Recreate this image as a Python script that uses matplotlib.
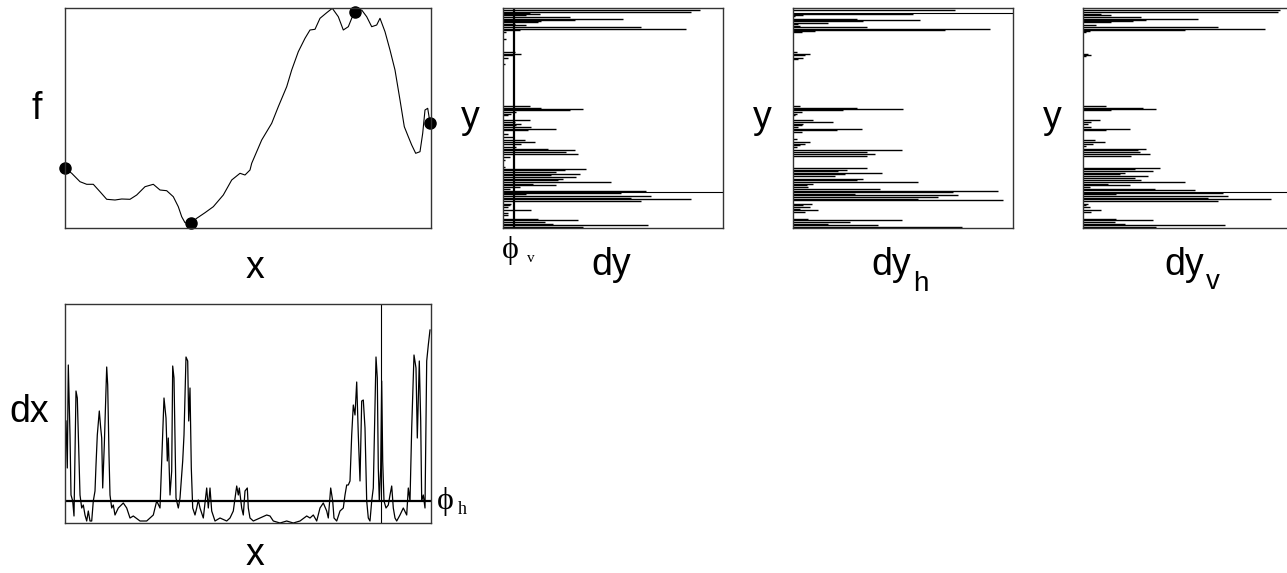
import matplotlib
matplotlib.use("Agg")
import matplotlib.pyplot as plt

# ---- f(x) profile (x in samples, f in arbitrary units) ----
f_x = [0, 6.7, 15, 21.7, 28.3, 35, 41.7, 50, 56.7, 65, 71.7, 80, 88.3, 95, 101.7, 108.3,
       113.3, 116.7, 120, 125.7, 131.7, 140, 148.3, 158.3, 166.7, 175, 180, 185, 186.7,
       196.7, 206.7, 213.3, 221.7, 226.7, 233.3, 240, 245, 250, 255, 261.7, 267.3, 273.3,
       278.3, 283.3, 286.7, 290, 296.7, 301.7, 306.7, 311.7, 315, 320, 325, 330, 335,
       339.3, 343.3, 346.7, 350.7, 355, 357.7, 360, 362.7, 365]
f_val = [59.7, 54.7, 46.3, 43.7, 43.7, 36.3, 28.7, 28, 29, 28.7, 33, 41.3, 43.7, 38, 37.3,
         31.3, 21.3, 11.3, 5.3, 4.7, 9.7, 15.3, 21.3, 33, 48, 54.7, 53, 58, 64.7, 88, 104.7,
         121.3, 141.3, 158, 176.3, 189.7, 198, 198.7, 209.7, 215.3, 219.7, 211.3, 198,
         201.3, 209.7, 216.3, 218, 211.3, 201.3, 203, 209.7, 196.3, 178, 158, 128, 101.3,
         91.3, 83, 74.7, 76.3, 94.7, 118, 119.7, 105.3]
ext_x = [0, 125.7, 290, 365]
ext_f = [59.7, 4.7, 216.3, 105.3]

# ---- dx profile ----
dx_x = [1, 2.3, 3.3, 5, 6, 7.7, 9, 11, 12.3, 13.3, 15, 16.7, 18.3, 20, 21.7, 23.3, 25,
        26.7, 28.3, 30, 31, 32.3, 34.3, 35.7, 36.7, 37.7, 39.3, 41.7, 42.7, 44, 45, 46.7,
        48.3, 50, 53.3, 58.3, 61.7, 65, 68.3, 75, 81.7, 88.3, 91.7, 95, 96.7, 99, 101,
        102.3, 103.3, 105, 106.7, 107.7, 109, 110, 111, 113.3, 115, 117.7, 119, 121, 122.7,
        123.7, 125, 126.3, 127.7, 130, 131.7, 133.3, 135, 138.3, 141.7, 143.3, 145, 146.7,
        150, 155, 161.7, 165, 168.3, 171.7, 173.3, 174.3, 176.7, 178.3, 180, 182.3, 183.3,
        185, 188.3, 195, 201.7, 205, 208.3, 215, 221.7, 228.3, 235, 241.7, 245, 248.3,
        251.7, 255, 258.3, 261.7, 263.3, 265.7, 267.7, 269, 271.7, 275, 278.3, 280, 281.7,
        283.3, 285, 286.7, 288.3, 290, 291.7, 293.3, 295, 296.7, 298.3, 300, 301.7, 303.3,
        305, 306.7, 308.3, 311, 312.3, 313.3, 314.3, 315.7, 316.7, 317.7, 319, 321, 323.3,
        325, 326.7, 328.3, 330, 331.7, 335, 338.3, 341.7, 343.3, 345, 346.7, 349, 351,
        352.3, 354.3, 355.7, 356.7, 358.3, 360, 361.7, 363.3, 365]
dx_val = [102, 55, 158, 88, 28, 22, 7, 132, 125, 88, 28, 15, 18, 8, 2, 12, 2, 2, 22, 32,
          58, 88, 112, 95, 85, 35, 78, 156, 138, 68, 28, 15, 18, 8, 15, 20, 15, 5, 7, 2, 2,
          8, 22, 15, 62, 125, 105, 62, 85, 28, 52, 157, 145, 82, 25, 15, 25, 62, 88, 166,
          162, 102, 135, 55, 15, 8, 15, 23, 15, 5, 35, 15, 35, 12, 2, 5, 2, 5, 12, 37, 28,
          35, 15, 8, 32, 35, 15, 5, 2, 5, 8, 7, 2, 0, 2, 0, 2, 7, 5, 8, 2, 15, 20, 12, 5,
          35, 22, 5, 2, 12, 15, 28, 38, 38, 42, 88, 118, 108, 141, 88, 42, 122, 123, 95,
          22, 5, 2, 22, 35, 166, 145, 55, 22, 55, 142, 62, 22, 15, 18, 28, 37, 15, 5, 2, 8,
          15, 8, 35, 22, 95, 168, 155, 85, 162, 102, 22, 28, 15, 162, 178, 193]
phi_h = 22
dx_mark = 315.5

# ---- dy profiles (row from bottom, length) ----
dy_rows = [218, 216, 215, 214, 213, 211, 209, 208, 207, 206, 204, 203, 201, 199, 198, 196,
           189, 176, 174, 173, 170, 164, 122, 120, 119, 118, 116, 114, 113, 108, 106, 104,
           103, 101, 99, 98, 94, 91, 88, 86, 84, 81, 79, 78, 76, 74, 71, 68, 61, 59, 58, 56,
           54, 53, 51, 49, 48, 46, 44, 43, 41, 39, 37, 35, 34, 32, 30, 29, 27, 24, 23, 21,
           18, 15, 13, 9, 8, 6, 4, 3, 1]
dy_vals = [197, 188, 27, 37, 23, 67, 120, 72, 38, 35, 12, 23, 138, 183, 17, 3, 3, 12, 18,
           10, 5, 2, 27, 38, 80, 67, 13, 8, 5, 27, 12, 18, 13, 28, 53, 25, 5, 10, 22, 32, 18,
           13, 45, 72, 63, 75, 7, 2, 2, 83, 62, 53, 77, 48, 73, 60, 55, 108, 30, 53, 17, 7,
           143, 118, 23, 148, 128, 188, 138, 8, 7, 5, 28, 5, 5, 35, 75, 42, 50, 145, 80]
phi_v = 11
dy_mark = 36

dyh_rows = [218, 214, 213, 212, 209, 208, 207, 205, 204, 202, 201, 199, 198, 197, 196, 176,
            174, 173, 170, 169, 122, 120, 119, 118, 116, 114, 113, 108, 106, 104, 103, 101,
            99, 98, 96, 89, 86, 84, 83, 81, 78, 76, 74, 72, 60, 58, 57, 55, 54, 52, 49, 48,
            46, 44, 43, 41, 39, 37, 36, 34, 33, 31, 29, 28, 24, 23, 21, 19, 18, 16, 9, 8, 6,
            4, 3, 1]
dyh_vals = [162, 120, 10, 2, 64, 127, 70, 35, 5, 7, 74, 197, 152, 22, 9, 4, 17, 12, 10, 5,
            7, 64, 110, 50, 9, 4, 2, 20, 40, 10, 9, 5, 69, 44, 9, 4, 17, 12, 7, 4, 109, 74,
            82, 74, 74, 54, 45, 89, 52, 42, 70, 64, 125, 20, 14, 15, 87, 205, 160, 62, 165,
            145, 125, 210, 19, 10, 17, 7, 25, 12, 15, 109, 57, 35, 85, 169]
dyh_mark = 215

dyv_rows = [218, 216, 214, 213, 211, 209, 208, 207, 206, 203, 201, 199, 198, 197, 196, 174,
            173, 172, 122, 120, 119, 118, 108, 106, 104, 101, 99, 98, 88, 86, 84, 82, 79, 78,
            76, 74, 72, 60, 59, 57, 55, 54, 52, 50, 48, 46, 44, 43, 41, 39, 38, 35, 34, 32,
            30, 29, 27, 24, 23, 21, 18, 16, 9, 8, 6, 4, 3, 1]
dyv_vals = [197, 195, 18, 28, 58, 115, 63, 50, 28, 13, 135, 182, 102, 7, 3, 5, 8, 3, 23,
            60, 73, 28, 17, 8, 5, 8, 47, 23, 12, 22, 10, 3, 63, 55, 57, 67, 48, 77, 52, 70,
            42, 37, 65, 52, 58, 102, 25, 47, 7, 72, 112, 140, 33, 145, 125, 188, 135, 5, 3,
            7, 18, 8, 33, 70, 32, 42, 142, 73]
dyv_mark = 36

W, H = 1287, 573
fig = plt.figure(figsize=(W / 100, H / 100), dpi=100)


def box(x0, y0, w, h):
    # pixel box (top-left origin) -> axes
    ax = fig.add_axes([x0 / W, 1 - (y0 + h) / H, w / W, h / H])
    ax.set_xticks([])
    ax.set_yticks([])
    for s in ax.spines.values():
        s.set_linewidth(1.0)
        s.set_color('#333333')
    return ax


sans = 'Liberation Sans'
serif = ['Liberation Serif', 'DejaVu Serif']
lab = dict(fontsize=27, family=sans, ha='center', va='center')

# f panel
ax1 = box(65, 8, 365.5, 220)
ax1.plot(f_x, f_val, color='k', lw=0.8)
ax1.plot(ext_x, ext_f, 'o', color='k', ms=8, clip_on=False)
ax1.set_xlim(0, 365.5)
ax1.set_ylim(0, 220)

# dx panel
ax2 = box(65, 304, 365.5, 219)
ax2.plot(dx_x, dx_val, color='k', lw=0.9)
ax2.axhline(phi_h, color='k', lw=1.6)
ax2.axvline(dx_mark, color='k', lw=0.8)
ax2.set_xlim(0, 365.5)
ax2.set_ylim(0, 219)

# dy panels
ax3 = box(503, 8, 220, 220)
ax3.hlines(dy_rows, 0, dy_vals, color='k', lw=1.0)
ax3.axvline(phi_v, color='k', lw=1.6)
ax3.axhline(dy_mark, color='k', lw=0.8)

ax4 = box(793, 8, 220, 220)
ax4.hlines(dyh_rows, 0, dyh_vals, color='k', lw=1.0)
ax4.axhline(dyh_mark, color='k', lw=0.8)

ax5 = box(1083, 8, 220, 220)
ax5.hlines(dyv_rows, 0, dyv_vals, color='k', lw=1.0)
ax5.axhline(dyv_mark, color='k', lw=0.8)

for a in (ax3, ax4, ax5):
    a.set_xlim(0, 220)
    a.set_ylim(0, 220)

# labels
fig.text(37 / W, 1 - 109 / H, 'f', **lab)
fig.text(255 / W, 1 - 268 / H, 'x', **lab)
fig.text(29 / W, 1 - 412 / H, 'dx', **lab)
fig.text(255 / W, 1 - 555 / H, 'x', **lab)
for yx in (470, 762, 1052):
    fig.text(yx / W, 1 - 118 / H, 'y', **lab)
fig.text(611 / W, 1 - 265 / H, 'dy', **lab)
fig.text(891 / W, 1 - 265 / H, 'dy', **lab)
fig.text(921 / W, 1 - 284 / H, 'h', fontsize=20, family=sans, ha='center', va='center')
fig.text(1184 / W, 1 - 265 / H, 'dy', **lab)
fig.text(1213 / W, 1 - 282 / H, 'v', fontsize=20, family=sans, ha='center', va='center')

fig.text(510 / W, 1 - 250 / H, '\u03d5', fontsize=23, family=serif, ha='center', va='center')
fig.text(531 / W, 1 - 259 / H, 'v', fontsize=11, family=serif, ha='center', va='center')
fig.text(445 / W, 1 - 502 / H, '\u03d5', fontsize=23, family=serif, ha='center', va='center')
fig.text(462 / W, 1 - 509 / H, 'h', fontsize=13, family=serif, ha='center', va='center')

fig.savefig('out.png', dpi=100)
